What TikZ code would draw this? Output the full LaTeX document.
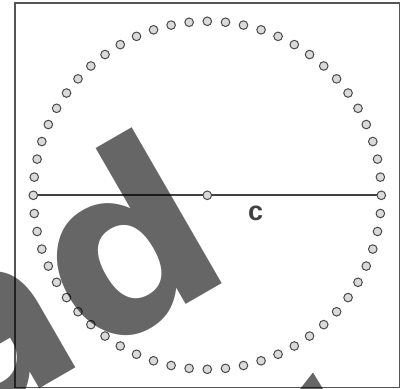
\documentclass[tikz,border=0pt]{standalone}
\usepackage{fontspec}
\setmainfont{Liberation Sans}
\newfontfamily\wmfont{DejaVu Sans}
\definecolor{dotgray}{HTML}{DADADA}
\definecolor{dotline}{HTML}{4A4A4A}
\definecolor{framecol}{HTML}{555555}
\definecolor{linecol}{HTML}{404040}
\begin{document}
\begin{tikzpicture}[x=1pt,y=-1pt,
  dotstyle/.style={circle,fill=dotgray,draw=dotline,line width=1pt,minimum size=8.6pt,inner sep=0pt},
  framestyle/.style={draw=framecol,line width=1.2pt},
  diamstyle/.style={draw=linecol,line width=2pt},
  markstyle/.style={black,opacity=0.6},
  labelstyle/.style={font=\fontsize{27}{27}\selectfont\bfseries,text=linecol,inner sep=0pt}]
\useasboundingbox (0,0) rectangle (406,388);
\fill[white] (0,0) rectangle (406,388);
\draw[framestyle] (15,3) rectangle (399.5,387.2);
\coordinate (O) at (207.3,195.3);
\path (O) ++(180:174) coordinate (L);
\path (O) ++(0:174) coordinate (R);
\draw[diamstyle] (L) -- (R);
\foreach \i in {0,...,59}
  \path (O) ++(\i*6:174) node[dotstyle] (d\i) {};
\node[dotstyle] (dc) at (O) {};
\node[labelstyle] (lab) at (255.7,213.3) {c};
\node[markstyle,rotate=30,anchor=base east,inner sep=0pt,font=\fontsize{237}{237}\selectfont\wmfont\bfseries] (wm) at (239.2,273.2) {ad};
\fill[markstyle] (313,372.5) -- (300,389) -- (323,389) -- cycle;
\end{tikzpicture}
\end{document}
